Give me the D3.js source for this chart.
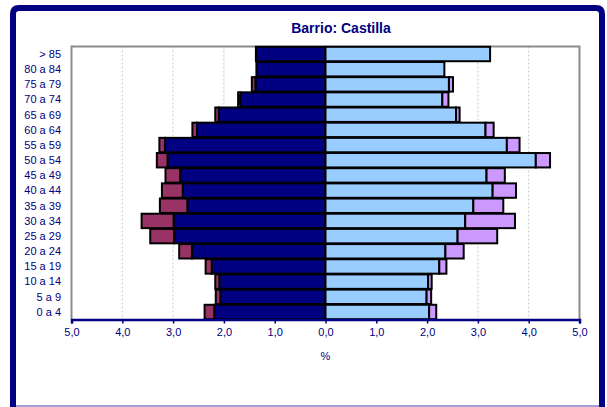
<!DOCTYPE html>
<html>
<head>
<meta charset="utf-8">
<script src="https://cdn.jsdelivr.net/npm/d3@7"></script>
<style>
  html, body { margin: 0; padding: 0; background: #fff; }
  svg { display: block; }
  text { font-family: "Liberation Sans", Arial, sans-serif; }
</style>
</head>
<body>
<svg id="chart" width="607" height="407"></svg>
<script>
const categories = ["> 85","80 a 84","75 a 79","70 a 74","65 a 69","60 a 64","55 a 59","50 a 54","45 a 49","40 a 44","35 a 39","30 a 34","25 a 29","20 a 24","15 a 19","10 a 14","5 a 9","0 a 4"];
const menSpanish   = [1.37,1.36,1.38,1.68,2.10,2.53,3.16,3.11,2.86,2.81,2.72,2.99,2.98,2.63,2.24,2.09,2.07,2.19];
const menForeign   = [0.00,0.00,0.07,0.04,0.07,0.09,0.11,0.21,0.29,0.41,0.54,0.63,0.47,0.25,0.12,0.08,0.09,0.19];
const womenSpanish = [3.24,2.34,2.43,2.30,2.57,3.15,3.57,4.14,3.17,3.29,2.91,2.75,2.60,2.36,2.24,2.02,1.99,2.04];
const womenForeign = [0.00,0.00,0.08,0.12,0.07,0.16,0.25,0.28,0.36,0.46,0.59,0.98,0.78,0.36,0.14,0.07,0.09,0.14];
const xTicks = [-5,-4,-3,-2,-1,0,1,2,3,4,5];
const title = "Barrio: Castilla";
const xTitle = "%";

const navy = "#000080";
const svg = d3.select("#chart");

// frame
svg.append("path")
  .attr("d", "M13,420 L13,14 Q13,8 19,8 L596,8 Q602,8 602,14 L602,420")
  .attr("fill", "none").attr("stroke", navy).attr("stroke-width", 6);
svg.append("line").attr("x1", 16).attr("x2", 599).attr("y1", 406).attr("y2", 406)
  .attr("stroke", "#8080c8").attr("stroke-width", 1.5);

const x = d3.scaleLinear().domain([-5, 5]).range([71.5, 579.5]);
const y = d3.scaleBand().domain(categories).range([46.5, 319.5]).paddingInner(0.05).paddingOuter(0.02);

// title
svg.append("text").attr("x", 341).attr("y", 33).attr("text-anchor", "middle")
  .attr("font-size", 14).attr("font-weight", "bold").attr("fill", navy).text(title);

// gridlines
svg.append("g").selectAll("line").data(xTicks.filter(d => d !== 0 && Math.abs(d) !== 5))
  .join("line")
  .attr("x1", d => x(d)).attr("x2", d => x(d))
  .attr("y1", 46.5).attr("y2", 319.5)
  .attr("stroke", "#c8c8c8").attr("stroke-width", 1).attr("stroke-dasharray", "2,2");

// plot border (gray)
svg.append("path")
  .attr("d", `M${x(-5)},319.5 L${x(-5)},46.5 L${x(5)},46.5 L${x(5)},319.5`)
  .attr("fill", "none").attr("stroke", "#8c8c8c").attr("stroke-width", 2);

const rows = categories.map((c, i) => ({c, ms: menSpanish[i], mf: menForeign[i], ws: womenSpanish[i], wf: womenForeign[i]}));
const segs = [];
rows.forEach(r => {
  segs.push({c: r.c, x0: -r.ms, x1: 0, fill: navy});
  if (r.mf > 0) segs.push({c: r.c, x0: -(r.ms + r.mf), x1: -r.ms, fill: "#993366"});
  segs.push({c: r.c, x0: 0, x1: r.ws, fill: "#99ccff"});
  if (r.wf > 0) segs.push({c: r.c, x0: r.ws, x1: r.ws + r.wf, fill: "#cc99ff"});
});

svg.append("g").selectAll("rect").data(segs).join("rect")
  .attr("x", d => x(d.x0)).attr("width", d => x(d.x1) - x(d.x0))
  .attr("y", d => y(d.c)).attr("height", y.bandwidth())
  .attr("fill", d => d.fill).attr("stroke", "#000").attr("stroke-width", 2);

// y labels
svg.append("g").selectAll("text").data(categories).join("text")
  .attr("x", 61).attr("y", d => y(d) + y.bandwidth() / 2)
  .attr("dy", "0.35em").attr("text-anchor", "end")
  .attr("font-size", 11).attr("fill", navy).text(d => d);

// x axis
const xAxis = d3.axisBottom(x).tickValues(xTicks).tickSize(4).tickPadding(5)
  .tickFormat(d => Math.abs(d).toFixed(1).replace(".", ","));
const gx = svg.append("g").attr("transform", "translate(0,319.5)").call(xAxis);
gx.select(".domain").attr("stroke", navy).attr("stroke-width", 2.5);
gx.selectAll(".tick line").attr("stroke", navy).attr("stroke-width", 1.5);
gx.selectAll(".tick text").attr("fill", navy).attr("font-size", 11)
  .attr("font-family", "'Liberation Sans', Arial, sans-serif");

svg.append("text").attr("x", x(0)).attr("y", 360).attr("text-anchor", "middle")
  .attr("font-size", 11).attr("fill", navy).text(xTitle);
</script>
</body>
</html>
